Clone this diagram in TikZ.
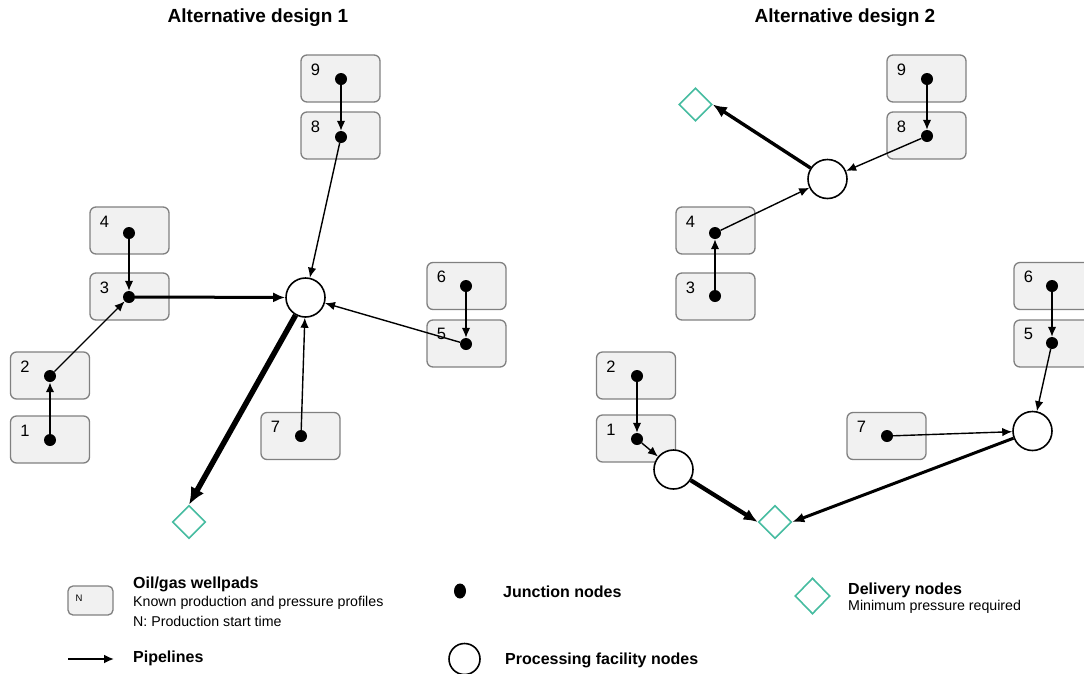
\documentclass[tikz,border=0pt]{standalone}
\usepackage{fontspec}
\setmainfont{Liberation Sans}
\usetikzlibrary{shapes.geometric,arrows.meta,calc}
\definecolor{padfill}{RGB}{241,241,241}
\definecolor{padline}{RGB}{128,128,128}
\definecolor{delivery}{RGB}{70,188,160}

\begin{document}
\begin{tikzpicture}[x=1pt,y=-1pt,
  pad/.style={draw=padline, fill=padfill, rounded corners=6pt, line width=1.3pt,
              minimum width=79pt, minimum height=47pt, inner sep=0pt},
  num/.style={font=\fontsize{16.5}{16.5}\selectfont, inner sep=0pt},
  jn/.style={circle, fill=black, inner sep=0pt, minimum size=12pt},
  fac/.style={circle, draw=black, fill=white, line width=1.6pt, minimum size=39pt, inner sep=0pt},
  dlv/.style={diamond, draw=delivery, fill=white, line width=1.6pt,
              minimum width=33pt, minimum height=33pt, inner sep=0pt},
  pipe/.style={line width=1.4pt, -{Latex[length=10pt,width=8.5pt]}},
  pipemid/.style={line width=3pt, -{Latex[length=12pt,width=10pt]}},
  pipebig/.style={line width=3.8pt, -{Latex[length=14pt,width=12pt]}},
  pipeheavy/.style={line width=5.5pt, -{Latex[length=17pt,width=15pt]}},
  title/.style={font=\bfseries\fontsize{19}{19}\selectfont},
  legh/.style={font=\bfseries\fontsize{16}{16}\selectfont, anchor=west, inner sep=0pt},
  legt/.style={font=\fontsize{14.2}{14.2}\selectfont, anchor=west, inner sep=0pt}
]
\useasboundingbox (0,0) rectangle (1084,673);

% ---------- Alternative design 1 ----------
\node[title] (t1) at (258,18) {Alternative design 1};

\node[pad] (p9) at (340.5,78.5) {};
\node[pad] (p8) at (340.5,135.5) {};
\node[pad] (p4) at (129.5,230.5) {};
\node[pad] (p3) at (129.5,296.5) {};
\node[pad] (p2) at (50,375.5) {};
\node[pad] (p1) at (50,439.5) {};
\node[pad] (p7) at (300.5,436) {};
\node[pad] (p6) at (466.5,286) {};
\node[pad] (p5) at (466.5,343.5) {};

\foreach \n in {1,...,9}{
  \node[num] (p\n l) at ($(p\n.north west)+(15,15)$) {\n};
}

\node[jn] (j9) at (341,79) {};
\node[jn] (j8) at (341,137) {};
\node[jn] (j4) at (129,233) {};
\node[jn] (j3) at (129,297) {};
\node[jn] (j2) at (50,376) {};
\node[jn] (j1) at (50,440) {};
\node[jn] (j7) at (301,436) {};
\node[jn] (j6) at (466,286) {};
\node[jn] (j5) at (466,344) {};

\node[fac] (f1) at (305.5,297.5) {};
\node[dlv] (d1) at (189,522) {};

\draw[pipe] (j9) -- (j8);
\draw[pipe] (j8) -- (f1);
\draw[pipe] (j4) -- (j3);
\draw[pipe, line width=1.9pt] (j1) -- (j2);
\draw[pipe] (j2) -- (j3);
\draw[pipe] (j6) -- (j5);
\draw[pipe] (j5) -- (f1);
\draw[pipe] (j7) -- (f1);
\draw[pipemid] (j3) -- (f1);
\draw[pipeheavy] (f1) -- (d1.north);

% ---------- Alternative design 2 ----------
\node[title] (t2) at (845,18) {Alternative design 2};

\node[pad] (q9) at (926.5,78.5) {};
\node[pad] (q8) at (926.5,135.5) {};
\node[pad] (q4) at (715.5,230.5) {};
\node[pad] (q3) at (715.5,296.5) {};
\node[pad] (q2) at (636,375.5) {};
\node[pad] (q1) at (636,438.5) {};
\node[pad] (q7) at (886.5,436) {};
\node[pad] (q6) at (1053.5,286) {};
\node[pad] (q5) at (1053.5,343.5) {};

\foreach \n in {1,...,9}{
  \node[num] (q\n l) at ($(q\n.north west)+(15,15)$) {\n};
}

\node[jn] (k9) at (927,79) {};
\node[jn] (k8) at (927,136) {};
\node[jn] (k4) at (715,233) {};
\node[jn] (k3) at (715,296) {};
\node[jn] (k2) at (637,376) {};
\node[jn] (k1) at (637,439) {};
\node[jn] (k7) at (887,436) {};
\node[jn] (k6) at (1052,286) {};
\node[jn] (k5) at (1052,343) {};

\node[fac] (g1) at (827.5,179) {};
\node[fac] (g2) at (673.5,469.5) {};
\node[fac] (g3) at (1032.5,431) {};
\node[dlv] (e1) at (695.5,104.5) {};
\node[dlv] (e2) at (775,522) {};

\draw[pipe] (k9) -- (k8);
\draw[pipe] (k8) -- (g1);
\draw[pipe] (k3) -- (k4);
\draw[pipe] (k4) -- (g1);
\draw[pipebig, line width=3.4pt] (g1) -- (e1.east);
\draw[pipe] (k2) -- (k1);
\draw[pipe] (k1) -- (g2);
\draw[pipebig, line width=4.2pt] (g2) -- (e2.west);
\draw[pipe] (k6) -- (k5);
\draw[pipe] (k5) -- (g3);
\draw[pipe] (k7) -- (g3);
\draw[pipemid] (g3) -- (e2.east);

% ---------- Legend ----------
\node[pad, minimum width=45pt, minimum height=29pt, rounded corners=5pt] (lp) at (90.5,600.5) {};
\node[font=\fontsize{9.5}{9.5}\selectfont, inner sep=0pt] (lpn) at (79,598) {N};
\node[legh] (lpt) at (133,584) {Oil/gas wellpads};
\node[legt] (lpa) at (133,603) {Known production and pressure profiles};
\node[legt] (lpb) at (133,621) {N: Production start time};

\coordinate (la0) at (68,659);
\coordinate (la1) at (114,659);
\draw[line width=1.9pt, -{Latex[length=10pt,width=9pt]}] (la0) -- (la1);
\node[legh] (lat) at (133,658) {Pipelines};

\node[jn, minimum width=12pt, minimum height=15pt, ellipse] (lj) at (460,591) {};
\node[legh] (ljt) at (503,592) {Junction nodes};

\node[fac, minimum size=31pt] (lf) at (464.5,659) {};
\node[legh] (lft) at (505,660) {Processing facility nodes};

\node[dlv, minimum width=35pt, minimum height=36pt] (ld) at (812.5,596) {};
\node[legh] (ldt) at (848,590) {Delivery nodes};
\node[legt] (ldm) at (848,607) {Minimum pressure required};
\end{tikzpicture}
\end{document}
